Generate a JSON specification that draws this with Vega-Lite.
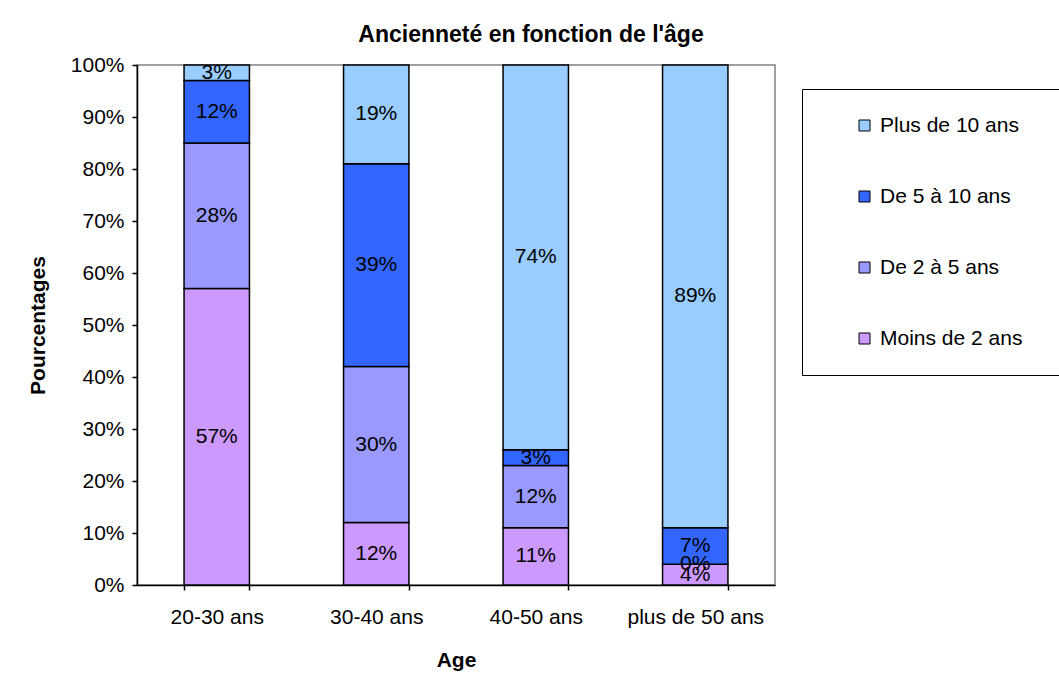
{
  "$schema": "https://vega.github.io/schema/vega-lite/v6.json",
  "autosize": {"type": "none"},
  "width": 638,
  "height": 520,
  "padding": {"left": 137, "top": 65, "right": 284, "bottom": 102},
  "background": "white",
  "title": {
    "text": "Ancienneté en fonction de l'âge",
    "font": "Liberation Sans",
    "fontSize": 23,
    "fontWeight": "bold",
    "color": "black",
    "anchor": "middle",
    "dx": 75,
    "offset": 7
  },
  "config": {
    "font": "Liberation Sans",
    "view": {"stroke": "#808080", "strokeWidth": 1.5},
    "axis": {
      "labelFont": "Liberation Sans",
      "titleFont": "Liberation Sans",
      "labelFontSize": 21,
      "titleFontSize": 21,
      "titleFontWeight": "bold",
      "labelColor": "black",
      "titleColor": "black",
      "domainColor": "black",
      "domainWidth": 1.5,
      "tickColor": "black",
      "tickWidth": 1.5,
      "tickSize": 5,
      "grid": false
    }
  },
  "data": {
    "values": [
      {"age": "20-30 ans", "cat": "Moins de 2 ans", "rank": 1, "pct": 0.57},
      {"age": "20-30 ans", "cat": "De 2 à 5 ans", "rank": 2, "pct": 0.28},
      {"age": "20-30 ans", "cat": "De 5 à 10 ans", "rank": 3, "pct": 0.12},
      {"age": "20-30 ans", "cat": "Plus de 10 ans", "rank": 4, "pct": 0.03},
      {"age": "30-40 ans", "cat": "Moins de 2 ans", "rank": 1, "pct": 0.12},
      {"age": "30-40 ans", "cat": "De 2 à 5 ans", "rank": 2, "pct": 0.30},
      {"age": "30-40 ans", "cat": "De 5 à 10 ans", "rank": 3, "pct": 0.39},
      {"age": "30-40 ans", "cat": "Plus de 10 ans", "rank": 4, "pct": 0.19},
      {"age": "40-50 ans", "cat": "Moins de 2 ans", "rank": 1, "pct": 0.11},
      {"age": "40-50 ans", "cat": "De 2 à 5 ans", "rank": 2, "pct": 0.12},
      {"age": "40-50 ans", "cat": "De 5 à 10 ans", "rank": 3, "pct": 0.03},
      {"age": "40-50 ans", "cat": "Plus de 10 ans", "rank": 4, "pct": 0.74},
      {"age": "plus de 50 ans", "cat": "Moins de 2 ans", "rank": 1, "pct": 0.04},
      {"age": "plus de 50 ans", "cat": "De 2 à 5 ans", "rank": 2, "pct": 0.00},
      {"age": "plus de 50 ans", "cat": "De 5 à 10 ans", "rank": 3, "pct": 0.07},
      {"age": "plus de 50 ans", "cat": "Plus de 10 ans", "rank": 4, "pct": 0.89}
    ]
  },
  "encoding": {
    "x": {
      "field": "age",
      "type": "nominal",
      "sort": null,
      "title": "Age",
      "scale": {"paddingInner": 0.59, "paddingOuter": 0.295},
      "axis": {"labelAngle": 0, "tickBand": "extent", "labelPadding": 16, "titlePadding": 22}
    },
    "y": {
      "field": "pct",
      "type": "quantitative",
      "stack": "zero",
      "title": "Pourcentages",
      "scale": {"domain": [0, 1], "nice": false},
      "axis": {"format": ".0%", "values": [0, 0.1, 0.2, 0.3, 0.4, 0.5, 0.6, 0.7, 0.8, 0.9, 1], "labelPadding": 8, "titlePadding": 22}
    },
    "order": {"field": "rank", "type": "quantitative", "sort": "ascending"}
  },
  "layer": [
    {
      "mark": {"type": "bar", "stroke": "black", "strokeWidth": 1.5},
      "encoding": {
        "color": {
          "field": "cat",
          "type": "nominal",
          "scale": {
            "domain": ["Plus de 10 ans", "De 5 à 10 ans", "De 2 à 5 ans", "Moins de 2 ans"],
            "range": ["#99CCFF", "#3366FF", "#9999FF", "#CC99FF"]
          },
          "legend": {
            "title": "xx",
            "titleOrient": "right",
            "titleOpacity": 0,
            "titleFontSize": 21,
            "titlePadding": 0,
            "orient": "none",
            "legendX": 665,
            "legendY": 24,
            "strokeColor": "black",
            "fillColor": "white",
            "padding": 26,
            "symbolOffset": 26,
            "symbolType": "square",
            "symbolSize": 121,
            "symbolStrokeColor": "black",
            "symbolStrokeWidth": 1,
            "labelFont": "Liberation Sans",
            "labelFontSize": 21,
            "labelColor": "black",
            "labelOffset": 5,
            "labelLimit": 400,
            "rowPadding": 49
          }
        }
      }
    },
    {
      "mark": {"type": "text", "font": "Liberation Sans", "fontSize": 21, "color": "black", "baseline": "middle"},
      "encoding": {
        "y": {"field": "pct", "type": "quantitative", "stack": "zero", "bandPosition": 0.5},
        "text": {"field": "pct", "type": "quantitative", "format": ".0%"}
      }
    }
  ]
}
